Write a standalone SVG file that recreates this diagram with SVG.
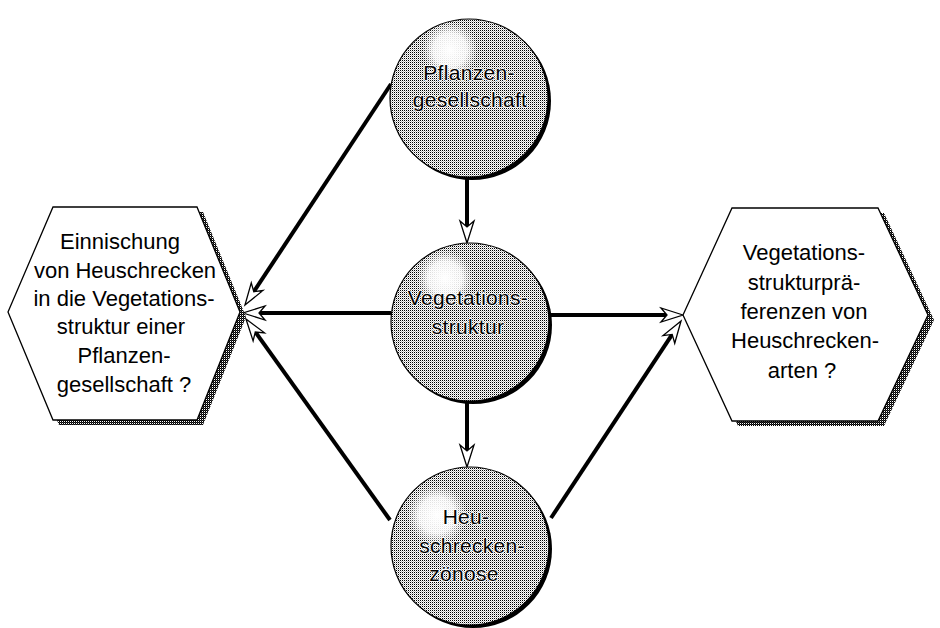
<svg xmlns="http://www.w3.org/2000/svg" width="940" height="628" viewBox="0 0 940 628">
<defs>
<pattern id="stip" width="2" height="2" patternUnits="userSpaceOnUse">
<rect width="2" height="2" fill="#ffffff"/>
<rect x="0" y="0" width="1" height="1" fill="#000000"/>
<rect x="1" y="1" width="1" height="1" fill="#bbbbbb"/>
</pattern>
<pattern id="stipd" width="2" height="2" patternUnits="userSpaceOnUse">
<rect width="2" height="2" fill="#ffffff"/>
<rect x="0" y="0" width="1" height="1" fill="#000000"/>
<rect x="1" y="1" width="1" height="1" fill="#000000"/>
<rect x="1" y="0" width="1" height="1" fill="#333333"/>
</pattern>
<radialGradient id="hl">
<stop offset="0" stop-color="#ffffff" stop-opacity="1"/>
<stop offset="0.6" stop-color="#ffffff" stop-opacity="0.85"/>
<stop offset="1" stop-color="#ffffff" stop-opacity="0"/>
</radialGradient>
<marker id="arr" markerUnits="userSpaceOnUse" markerWidth="26" markerHeight="18" refX="6" refY="7" orient="auto" overflow="visible">
<path d="M22,7 L0,0 L6,7 L0,14 Z" fill="#ffffff" stroke="#000000" stroke-width="1.3" stroke-linejoin="miter"/>
</marker>
</defs>
<style>
.ball{fill:url(#stip);stroke:#000;stroke-width:1.2}
.shad{fill:#000}
.hex{fill:#fff;stroke:#000;stroke-width:1.3}
.hexs{fill:url(#stipd)}
.t{font-family:"Liberation Sans",Arial,sans-serif;font-size:22px;fill:#000;text-anchor:middle}
.tc{font-family:"Liberation Sans",Arial,sans-serif;font-size:21px;fill:#000;text-anchor:middle;stroke:#fff;stroke-width:1.6;paint-order:stroke;stroke-linejoin:round;letter-spacing:0.3px}
.con{stroke:#000;stroke-width:4;fill:none;marker-end:url(#arr)}
</style>
<rect width="940" height="628" fill="#ffffff"/>

<g id="connectors">
<line class="con" x1="391" y1="84" x2="253.8" y2="291.7"/>
<line class="con" x1="391" y1="313" x2="259" y2="313"/>
<line class="con" x1="390" y1="520" x2="255.3" y2="332"/>
<line class="con" x1="551" y1="315" x2="667" y2="315"/>
<line class="con" x1="551" y1="518" x2="672.2" y2="334.4"/>
<line class="con" x1="467" y1="177" x2="467" y2="227"/>
<line class="con" x1="467" y1="401" x2="467" y2="451"/>
</g>

<g id="node-pflanzengesellschaft">
<circle class="shad" cx="472" cy="101" r="79"/>
<circle class="ball" cx="469" cy="98" r="79"/>
<circle cx="450" cy="50" r="28" fill="url(#hl)"/>
<text class="tc" x="469" y="80">Pflanzen-</text>
<text class="tc" x="470" y="107">gesellschaft</text>
</g>

<g id="node-vegetationsstruktur">
<circle class="shad" cx="473" cy="325" r="79"/>
<circle class="ball" cx="470" cy="322" r="79"/>
<circle cx="445" cy="278" r="28" fill="url(#hl)"/>
<text class="tc" x="468" y="305">Vegetations-</text>
<text class="tc" x="468" y="334">struktur</text>
</g>

<g id="node-heuschreckenzoenose">
<circle class="shad" cx="473" cy="549" r="79"/>
<circle class="ball" cx="470" cy="546" r="79"/>
<circle cx="437" cy="515" r="30" fill="url(#hl)"/>
<text class="tc" x="466" y="524">Heu-</text>
<text class="tc" x="472" y="553">schrecken-</text>
<text class="tc" x="464" y="581">zönose</text>
</g>

<g id="node-einnischung">
<polygon class="hexs" points="59,212 203,212 246,317 203,425 59,425 14,317"/>
<polygon class="hex" points="53,207 197,207 240,312 197,420 53,420 8,312"/>
<text class="t" x="120" y="249">Einnischung</text>
<text class="t" x="125" y="278">von Heuschrecken</text>
<text class="t" x="124" y="306">in die Vegetations-</text>
<text class="t" x="121" y="334">struktur einer</text>
<text class="t" x="124" y="363">Pflanzen-</text>
<text class="t" x="124" y="392">gesellschaft ?</text>
</g>

<g id="node-praeferenzen">
<polygon class="hexs" points="738,213 884,213 934,320 884,426 738,426 689,320"/>
<polygon class="hex" points="732,208 878,208 928,315 878,421 732,421 683,315"/>
<text class="t" x="804" y="260">Vegetations-</text>
<text class="t" x="804" y="290">strukturprä-</text>
<text class="t" x="804" y="319">ferenzen von</text>
<text class="t" x="805" y="348">Heuschrecken-</text>
<text class="t" x="802" y="378">arten ?</text>
</g>
</svg>
